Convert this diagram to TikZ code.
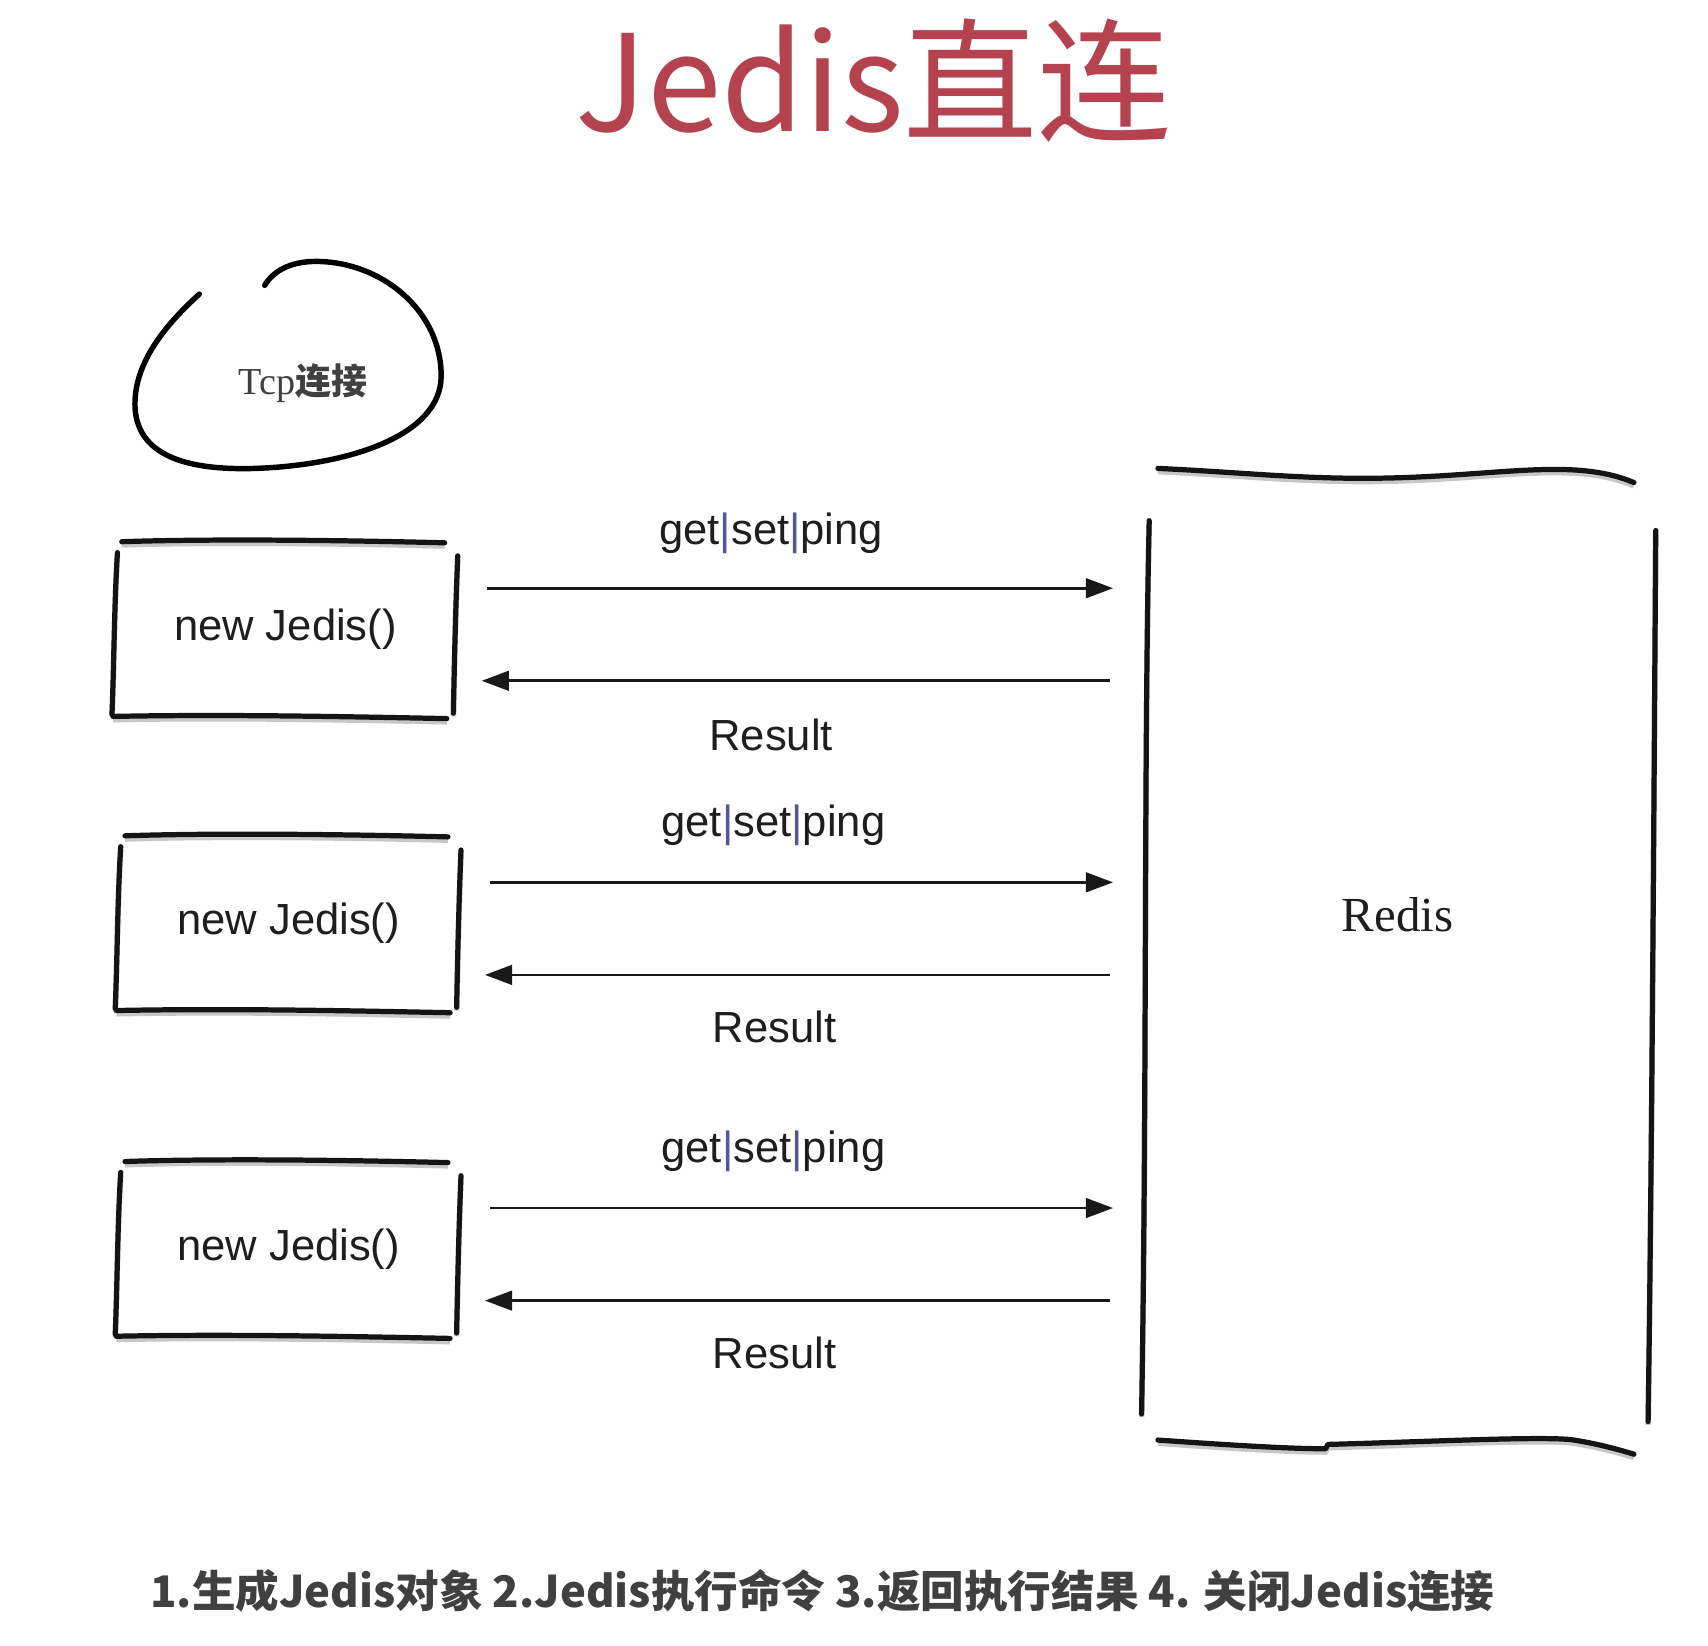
\documentclass[tikz,border=0pt]{standalone}
\usepackage{fontspec}
\setmainfont{Liberation Sans}
\newfontfamily\cjk{Noto Sans CJK SC}
\newfontfamily\serifr{Liberation Serif}
\usetikzlibrary{arrows.meta,calc}
\definecolor{titlered}{HTML}{B5424F}
\definecolor{txt}{HTML}{1E1E1E}
\definecolor{barblue}{HTML}{55559A}
\begin{document}
\begin{tikzpicture}[x=1pt,y=-1pt,
  hand/.style={line width=4.8pt,line cap=round,line join=round,black!92,
     preaction={draw=black!22,line width=5pt,transform canvas={yshift=-3pt}}},
  arr/.style={line width=2.6pt,black!90,-{Triangle[length=25pt,width=18pt]}},
  boxnode/.style={draw=none,minimum width=312pt,minimum height=161pt,inner sep=0pt,
     font=\fontsize{40}{44}\selectfont,text=txt},
  lbl/.style={font=\fontsize{40}{44}\selectfont,text=txt,inner sep=0pt}]
\useasboundingbox (0,0) rectangle (1568,1511);
\fill[white] (0,0) rectangle (1568,1511);

% title
\node[font=\cjk\fontsize{123}{130}\selectfont,text=titlered,inner sep=0pt,anchor=base] (title) at (802,121) {Jedis直连};

% tcp loop
\node[inner sep=0pt,text=black!75] (tcp) at (278,352) {\serifr\fontsize{35}{38}\selectfont Tcp\cjk\bfseries\fontsize{33}{36}\selectfont 连接};
\draw[line width=5pt,line cap=round,black] (183,270) .. controls (150,300) and (122,335) .. (124,375)
  .. controls (127,420) and (175,432) .. (235,430)
  .. controls (320,427) and (405,400) .. (405,345)
  .. controls (405,285) and (350,240) .. (290,240)
  .. controls (265,240) and (250,250) .. (243,262);

% client boxes
\node[boxnode] (b1) at (262,578) {new Jedis()};
\node[boxnode] (b2) at (265,848) {new Jedis()};
\node[boxnode] (b3) at (265,1147) {new Jedis()};
\foreach \b in {b1,b2,b3}{
  \draw[hand] ($(\b.north west)+(6,0)$) .. controls +(90,-3) and +(-80,-2) .. ($(\b.north east)+(-10,1)$);
  \draw[hand] ($(\b.north west)+(2,10)$) .. controls +(-3,50) and +(2,-50) .. ($(\b.south west)+(-3,-3)$);
  \draw[hand] ($(\b.north east)+(2,13)$) .. controls +(-2,50) and +(1,-50) .. ($(\b.south east)+(-2,-4)$);
  \draw[hand] ($(\b.south west)+(-2,-1)$) .. controls +(100,-2) and +(-100,-2) .. ($(\b.south east)+(-8,1)$);
}

% redis
\node[draw=none,minimum width=466pt,minimum height=900pt,inner sep=0pt] (redis) at (1285,880) {};
\node[font=\serifr\fontsize{45}{50}\selectfont,text=txt,inner sep=0pt] (redislbl) at (1283,840) {Redis};
\draw[hand] (1063,430) .. controls (1150,434) and (1210,442) .. (1300,438)
  .. controls (1390,434) and (1450,422) .. (1500,443);
\draw[hand] (1055,478) .. controls (1050,700) and (1053,1000) .. (1048,1298);
\draw[hand] (1520,487) .. controls (1518,800) and (1516,1100) .. (1513,1305);
\draw[hand] (1063,1322) .. controls (1120,1326) and (1180,1330) .. (1217,1330) -- (1219,1326)
  .. controls (1300,1324) and (1420,1318) .. (1445,1322) .. controls (1470,1326) and (1490,1332) .. (1500,1335);

% arrows
\foreach \b/\i in {b1/1,b2/2,b3/3}{
  \coordinate (r\i) at ($(\b.east)+(0,-38)$);
  \coordinate (l\i) at ($(\b.east)+(0,47)$);
  \draw[arr,shorten <=29pt,shorten >=30pt] (r\i) -- (r\i -| redis.west);
  \draw[arr,shorten <=33pt,shorten >=24pt] (l\i -| redis.west) -- (l\i);
}
\newcommand\gsp{get\textcolor{barblue}{|}set\textcolor{barblue}{|}ping}
\node[lbl] (q1) at (708,490) {\gsp};
\node[lbl] (a1) at (708,675) {Result};
\node[lbl] (q2) at (710,758) {\gsp};
\node[lbl] (a2) at (711,943) {Result};
\node[lbl] (q3) at (710,1057) {\gsp};
\node[lbl] (a3) at (711,1242) {Result};

% footer
\node[font=\cjk\bfseries\fontsize{40}{44}\selectfont,text=txt!85,inner sep=0pt] (foot) at (755,1460)
  {1.生成Jedis对象 2.Jedis执行命令 3.返回执行结果 4. 关闭Jedis连接};
\end{tikzpicture}
\end{document}
